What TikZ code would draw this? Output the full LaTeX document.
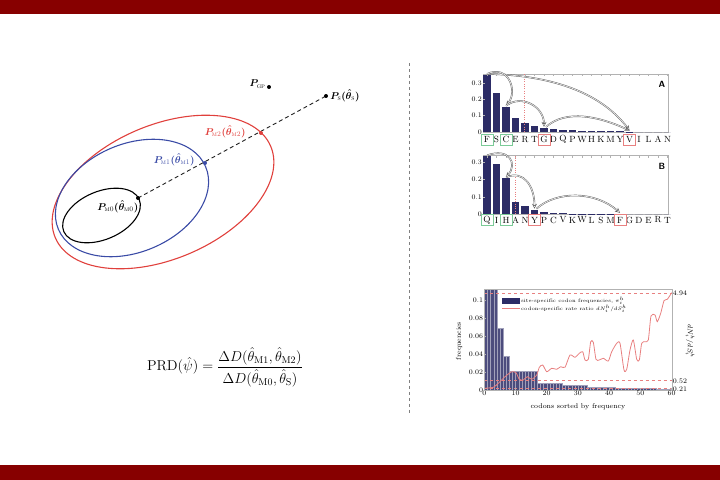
\documentclass[tikz,border=0pt]{standalone}
\usepackage{amsmath,amssymb}
\usetikzlibrary{positioning,arrows.meta}
\definecolor{slidered}{HTML}{870000}
\definecolor{ellred}{HTML}{E0403C}
\definecolor{ellblue}{HTML}{3A4BA6}
\definecolor{barblue}{HTML}{2C2C66}
\definecolor{boxgreen}{HTML}{7CCB98}
\definecolor{boxred}{HTML}{E88080}
\tikzset{
  dotpt/.style={circle,fill,inner sep=0pt,minimum size=4pt},
  ptlbl/.style={font=\boldmath,inner sep=1pt},
  aabar/.style={fill=barblue},
  aalett/.style={font=\small,inner sep=0pt},
  grnbox/.style={draw=boxgreen,line width=0.6pt,minimum width=12bp,minimum height=11bp,inner sep=0pt},
  redbox/.style={draw=boxred,line width=0.6pt,minimum width=12bp,minimum height=11bp,inner sep=0pt},
  hop/.style={draw=gray!75!black,line width=0.45pt,double=gray!15,double distance=0.7pt,
    -{Stealth[open,length=5pt,width=5pt]}},
  frame/.style={draw=gray!60,line width=0.4pt},
  ticklbl/.style={font=\scriptsize,inner sep=1pt},
  rateline/.style={draw=boxred,line width=0.8pt},
}
\begin{document}
\begin{tikzpicture}[x=1bp,y=-1bp]
%define stuff
\def\Ax{487}
\def\dx{9.5}
\def\Abase{132}
\def\Ascale{163}
\def\Bbase{214}
\def\Bscale{172}
\def\Cx{484.3}
\def\Cdx{3.12}
\def\Cbase{390}
\def\Cys{900}
%set bounding box
\useasboundingbox (0,0) rectangle (720,480);
%slide bars and divider
\fill[slidered] (0,0) rectangle (720,14);
\fill[slidered] (0,465) rectangle (720,480);
\draw[dashed,gray] (409,63) -- (409,413);
%Nested models
\draw[ellred,line width=1.1pt,rotate around={23:(163,192)}] (163,192) ellipse [x radius=117, y radius=67];
\draw[ellblue,line width=1.1pt,rotate around={23:(132,198)}] (132,198) ellipse [x radius=80, y radius=54];
\draw[black,line width=1.1pt,rotate around={23:(101.5,215.5)}] (101.5,215.5) ellipse [x radius=41, y radius=24];
\coordinate (cM0) at (138,198);
\coordinate (cM1) at (205,163);
\coordinate (cM2) at (261,133);
\coordinate (cS) at (326,96);
\draw[gray!25!black,line width=0.9pt,dash pattern=on 4pt off 3pt] (cM0) -- (cS);
\node[dotpt] (pM0) at (cM0) {};
\node[dotpt,ellblue] (pM1) at (cM1) {};
\node[dotpt,ellred] (pM2) at (cM2) {};
\node[dotpt] (pS) at (cS) {};
\node[dotpt] (pGP) at (269,87) {};
\node[ptlbl,below left=0bp and -3bp of pM0] (lblM0) {$P_{\textsc{m0}}(\hat{\theta}_{\textsc{m0}})$};
\node[ptlbl,ellblue,left=7bp of pM1,yshift=3] (lblM1) {$P_{\textsc{m1}}(\hat{\theta}_{\textsc{m1}})$};
\node[ptlbl,ellred,left=12bp of pM2,yshift=1] (lblM2) {$P_{\textsc{m2}}(\hat{\theta}_{\textsc{m2}})$};
\node[ptlbl,right=1bp of pS] (lblS) {$P_{\textsc{s}}(\hat{\theta}_{\textsc{s}})$};
\node[ptlbl,left=0bp of pGP,yshift=3] (lblGP) {$P_{\textsc{gp}}$};
%Formula
\node[font=\Large] (prd) at (225,367)
  {$\mathrm{PRD}(\hat{\psi}) = \dfrac{\Delta D(\hat{\theta}_{\mathrm{M1}},\hat{\theta}_{\mathrm{M2}})}{\Delta D(\hat{\theta}_{\mathrm{M0}},\hat{\theta}_{\mathrm{S}})}$};
%Panel A
\draw[frame] (483,74) rectangle (668,132);
\foreach \h/\l [count=\i] in {0.35/F,0.24/S,0.155/C,0.083/E,0.053/R,0.035/T,0.025/G,0.018/D,0.012/Q,0.010/P,0.008/W,0.007/H,0.006/K,0.005/M,0.004/Y,0.003/V,0/I,0/L,0/A,0/N}
{
	\pgfmathsetmacro\xx{\Ax+(\i-1)*\dx}
	\fill[aabar] (\xx-3.7,\Abase) rectangle (\xx+3.7,\Abase-\h*\Ascale);
	\coordinate (Atop\i) at (\xx,\Abase-\h*\Ascale-1);
	\node[aalett] (A\i) at (\xx,139.5) {\l};
	\draw[frame] (\xx,74) -- ++(0,2);
}
\foreach \v [count=\k] in {0,0.1,0.2,0.3}
{
	\draw[frame] (483,\Abase-\v*\Ascale) -- ++(2,0);
	\node[ticklbl,left] (Ayt\k) at (483,\Abase-\v*\Ascale) {\v};
}
\draw[dotted,boxred] (524,74) -- (524,132);
\node[grnbox] (boxA1) at (A1) {};
\node[grnbox] (boxA3) at (A3) {};
\node[redbox] (boxA7) at (A7) {};
\node[redbox] (boxA16) at (A16) {};
\node[font=\sffamily\bfseries\small] (tagA) at (662,84) {A};
\draw[hop] (Atop1) .. controls +(60,1) and +(-30,-40) .. (Atop16);
\draw[hop] (Atop1) .. controls +(22,-10) and +(12,-14) .. (Atop3);
\draw[hop] (Atop3) .. controls +(16,-12) and +(0,-20) .. (Atop7);
\draw[hop] ([xshift=2]Atop7) .. controls +(20,-18) and +(-30,-14) .. (Atop16);
%Panel B
\draw[frame] (483,155.7) rectangle (668,214);
\foreach \h/\l [count=\i] in {0.335/Q,0.29/I,0.207/H,0.072/A,0.045/N,0.025/Y,0.012/P,0.006/C,0.003/V,0.002/K,0.001/W,0.001/L,0.001/S,0.001/M,0.001/F,0/G,0/D,0/E,0/R,0/T}
{
	\pgfmathsetmacro\xx{\Ax+(\i-1)*\dx}
	\fill[aabar] (\xx-3.7,\Bbase) rectangle (\xx+3.7,\Bbase-\h*\Bscale);
	\coordinate (Btop\i) at (\xx,\Bbase-\h*\Bscale-1);
	\node[aalett] (B\i) at (\xx,220) {\l};
	\draw[frame] (\xx,155.7) -- ++(0,2);
}
\foreach \v [count=\k] in {0,0.1,0.2,0.3}
{
	\draw[frame] (483,\Bbase-\v*\Bscale) -- ++(2,0);
	\node[ticklbl,left] (Byt\k) at (483,\Bbase-\v*\Bscale) {\v};
}
\draw[dotted,boxred] (515,155.7) -- (515,214);
\node[grnbox] (boxB1) at (B1) {};
\node[grnbox] (boxB3) at (B3) {};
\node[redbox] (boxB6) at (B6) {};
\node[redbox] (boxB15) at (B15) {};
\node[font=\sffamily\bfseries\small] (tagB) at (662,166) {B};
\draw[hop] (Btop1) .. controls +(22,-8) and +(12,-14) .. (Btop3);
\draw[hop] (Btop3) .. controls +(18,-8) and +(0,-22) .. (Btop6);
\draw[hop] ([xshift=2]Btop6) .. controls +(20,-18) and +(-25,-22) .. (Btop15);
%Codon frequencies and rate ratios
\foreach \v [count=\i] in {0.112,0.112,0.112,0.112,0.069,0.069,0.038,0.038,
	0.021,0.021,0.021,0.021,0.021,0.021,0.021,0.021,0.021,
	0.008,0.008,0.008,0.008,0.008,0.008,0.008,0.008,
	0.006,0.006,0.006,0.006,0.006,0.006,0.006,0.006,
	0.003,0.003,0.003,0.003,0.003,0.003,0.003,0.003,0.003,
	0.002,0.002,0.002,0.002,0.002,0.002,0.002,0.002,0.002,0.002,0.002,0.002,0.002,
	0.001,0.001,0.001,0.001,0.001}
{
	\filldraw[fill=barblue!85,draw=barblue!45,line width=0.2pt]
		(\Cx+\i*\Cdx-\Cdx,\Cbase) rectangle (\Cx+\i*\Cdx,\Cbase-\v*\Cys);
}
\foreach \yy in {293,380,388.5}
{
	\draw[dashed,boxred] (\Cx,\yy) -- (671.7,\yy);
}
\draw[rateline] plot[smooth,tension=0.4] coordinates {(484.3,388.3) (493.3,387.3) (498.3,383.3) (505,376.7) (511.7,371.7) (516,372.7) (519.3,379.3) (523.3,380) (527.3,376.7) (531.7,379.3) (536.7,375) (539.3,367.3) (542.7,365) (546.7,371.7) (551.7,368.3) (556.7,369.3) (560.7,366.7) (565,367.3) (570,355) (575,357.3) (579.3,353.3) (582.7,351.7) (585,360) (588.3,359.3) (590.7,341.7) (593.3,342.3) (596,359.3) (599.3,360) (603.3,358.3) (608.3,361) (611.7,351.7) (616.7,343.3) (620,343.3) (624,370) (626.7,369.3) (630,350) (633.3,340) (636.7,359.3) (639.3,360) (641.7,343.3) (645,341.7) (648.3,340) (651,316) (655,315) (657.3,321.7) (660.7,313.3) (664,300.7) (667.3,299.3) (671.7,292.7)};
\draw[frame] (\Cx,289.3) rectangle (671.7,\Cbase);
\foreach \t [count=\k] in {0,10,...,60}
{
	\draw[frame] (\Cx+\t*\Cdx,\Cbase) -- ++(0,-2);
	\node[ticklbl,below] (Cxt\k) at (\Cx+\t*\Cdx,\Cbase) {\t};
}
\foreach \v [count=\k] in {0,0.02,0.04,0.06,0.08,0.1}
{
	\draw[frame] (\Cx,\Cbase-\v*\Cys) -- ++(2,0);
	\node[ticklbl,left] (Cyt\k) at (\Cx,\Cbase-\v*\Cys) {\v};
}
\node[ticklbl,right] (Cr1) at (671.7,293) {4.94};
\node[ticklbl,right] (Cr2) at (671.7,381) {0.52};
\node[ticklbl,right] (Cr3) at (671.7,389.5) {0.21};
\node[ticklbl,rotate=90] (ylblC) at (459,341) {frequencies};
\node[ticklbl,rotate=-90] (ylblR) at (690,341) {$dN_i^h/dS_i^h$};
\node[ticklbl] (xlblC) at (578,407) {codons sorted by frequency};
%Legend
\node[fill=barblue,minimum width=18bp,minimum height=6bp,inner sep=0pt] (legsq) at (511,300.5) {};
\coordinate (legl0) at (502,308.7);
\coordinate (legl1) at (520,308.7);
\draw[rateline] (legl0) -- (legl1);
\node[right,font=\tiny,inner sep=1pt] (legtxt1) at (520,300.5) {site-specific codon frequencies, $\pi_i^h$};
\node[right,font=\tiny,inner sep=1pt] (legtxt2) at (legl1) {codon-specific rate ratio $dN_i^h/dS_i^h$};
\end{tikzpicture}
\end{document}
